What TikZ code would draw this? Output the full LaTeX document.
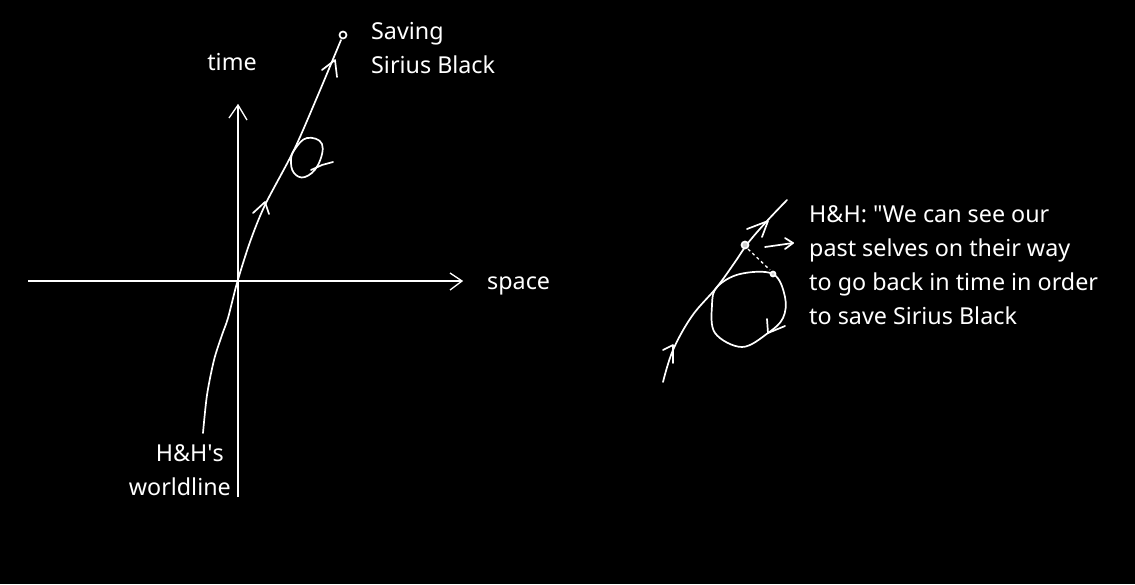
\documentclass[tikz,border=0pt]{standalone}
\usepackage{fontspec}
\setmainfont{Noto Sans}
\begin{document}
\begin{tikzpicture}[x=1pt,y=-1pt,
  ink/.style={white,line width=1.7pt,line cap=round,line join=round},
  axis/.style={white,line width=1.3pt},
  lbl/.style={text=white,font=\fontsize{23.3}{34}\selectfont,inner sep=0pt}]
\fill[black] (0,0) rectangle (1135,584);
\useasboundingbox (0,0) rectangle (1135,584);
% axes
\draw[axis] (28,281) -- (462,281);
\draw[axis] (450,273) -- (462,281) -- (450,290);
\draw[axis] (238,497) -- (238,105);
\draw[axis] (229,118) -- (238,105) -- (247,120);
% worldline
\draw[ink] plot[smooth,tension=0.5] coordinates {(203,433) (207,395) (214,360) (222,335) (228,318) (237,283) (250,242) (265,205) (294,150) (318,95) (341,40)};
\draw[ink] (343,35) circle (3.5);
\draw[ink] (322,70) -- (335,60) -- (337,77);
\draw[ink] (253,213) -- (265,202) -- (269,214);
% small loop
\draw[ink] plot[smooth cycle,tension=0.7] coordinates {(295,149) (307,138) (322,144) (318,165) (305,177) (294,173) (291,160)};
\draw[ink] (311,170) -- (322,165) -- (333,162);
% labels
\node[lbl,anchor=base] (time) at (232,70) {time};
\node[lbl,anchor=base west] (space) at (487,289) {space};
\node[lbl,anchor=base west,align=left] (saving) at (371,73) {Saving\\Sirius Black};
\node[lbl,anchor=base east,align=right] (hh) at (231,495) {H\&H\textquotesingle s\rule{7pt}{0pt}\\worldline};
% second diagram
\draw[ink] plot[smooth,tension=0.6] coordinates {(663,382) (673,350) (692,316) (717,287) (735,262) (748,243) (767,221) (787,200)};
\draw[ink] (663,350) -- (673,345) -- (673,363);
\draw[ink] (747,229) -- (768,221) -- (762,237);
\draw[ink] plot[smooth cycle,tension=0.6] coordinates {(717,287) (740,274) (773,274) (785,297) (783,318) (768,333) (742,347) (715,333) (712,305)};
\draw[ink] (767,319) -- (768,333) -- (785,326);
\draw[ink,fill=white!80!black] (745,245) circle (3.5);
\draw[ink,fill=white!80!black] (773,274) circle (2.5);
\draw[white,line width=1.3pt,dash pattern=on 3pt off 3pt] (748,249) -- (770,270);
\draw[ink] (765,247) -- (793,243);
\draw[ink] (785,238) -- (793,243) -- (785,249);
\node[lbl,anchor=base west,align=left] (quote) at (809,324) {H\&H: \textquotedbl We can see our\\past selves on their way\\to go back in time in order\\to save Sirius Black};
\end{tikzpicture}
\end{document}
